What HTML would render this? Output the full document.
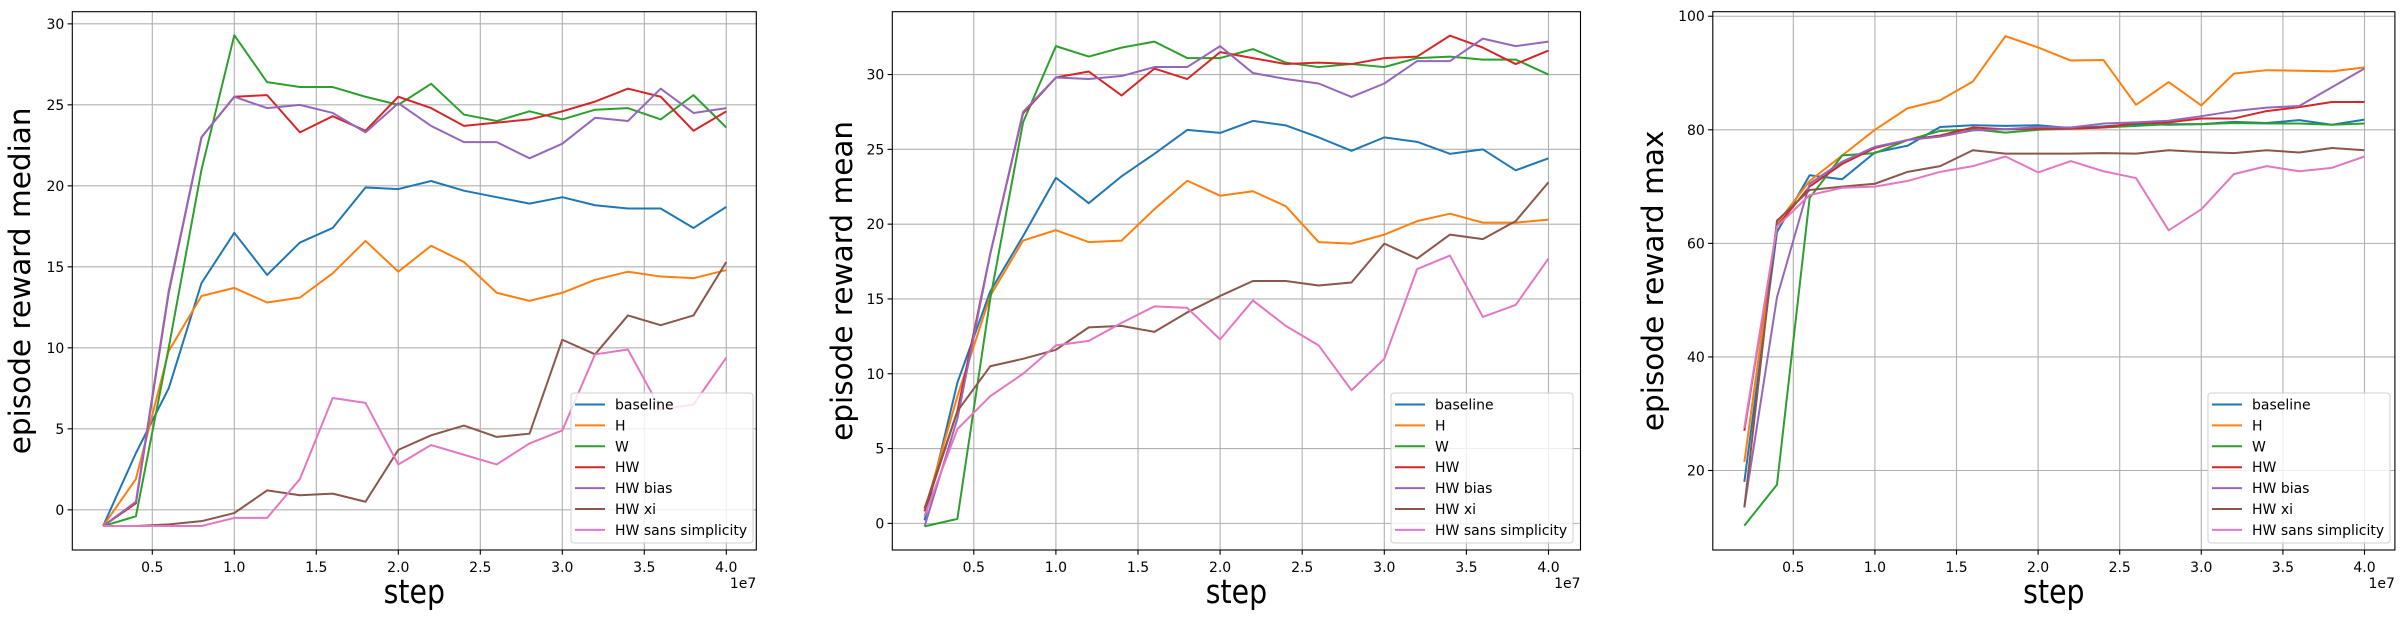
<!DOCTYPE html>
<html><head><meta charset="utf-8">
<style>
html,body{margin:0;padding:0;background:#fff;}
svg{display:block;font-family:"DejaVu Sans","Liberation Sans",sans-serif;}
</style></head>
<body>
<svg id="fig" width="2406" height="618" viewBox="0 0 2406 618" xmlns="http://www.w3.org/2000/svg"></svg>
<script>
const steps = [0.2,0.4,0.6,0.8,1.0,1.2,1.4,1.6,1.8,2.0,2.2,2.4,2.6,2.8,3.0,3.2,3.4,3.6,3.8,4.0];
const seriesNames = ["baseline","H","W","HW","HW bias","HW xi","HW sans simplicity"];
const seriesColors = ["#1f77b4","#ff7f0e","#2ca02c","#d62728","#9467bd","#8c564b","#e377c2"];
const xTicks = [0.5,1.0,1.5,2.0,2.5,3.0,3.5,4.0];
const xTickLabels = ["0.5","1.0","1.5","2.0","2.5","3.0","3.5","4.0"];

const medianBaseline = [-1,3.5,7.5,14,17.1,14.5,16.5,17.4,19.9,19.8,20.3,19.7,19.3,18.9,19.3,18.8,18.6,18.6,17.4,18.7];
const medianH = [-1,1.9,9.8,13.2,13.7,12.8,13.1,14.6,16.6,14.7,16.3,15.3,13.4,12.9,13.4,14.2,14.7,14.4,14.3,14.8];
const medianW = [-1,-0.4,10,21,29.3,26.4,26.1,26.1,25.5,25,26.3,24.4,24.0,24.6,24.1,24.7,24.8,24.1,25.6,23.6];
const medianHW = [-1,0.4,13.4,23,25.5,25.6,23.3,24.3,23.4,25.5,24.8,23.7,23.9,24.1,24.6,25.2,26.0,25.5,23.4,24.6];
const medianHWbias = [-1,0.5,13.5,23,25.5,24.8,25,24.5,23.3,25.1,23.7,22.7,22.7,21.7,22.6,24.2,24.0,26.0,24.5,24.8];
const medianHWxi = [-1,-1,-0.9,-0.7,-0.2,1.2,0.9,1.0,0.5,3.7,4.6,5.2,4.5,4.7,10.5,9.6,12.0,11.4,12.0,15.3];
const medianHWsans = [-1,-1,-1,-1,-0.5,-0.5,1.9,6.9,6.6,2.8,4.0,3.4,2.8,4.1,4.9,9.6,9.9,6.2,6.5,9.4];
const medianYTicks = [0,5,10,15,20,25,30];

const meanBaseline = [0.2,9.4,15.5,19.2,23.1,21.4,23.2,24.7,26.3,26.1,26.9,26.6,25.8,24.9,25.8,25.5,24.7,25.0,23.6,24.4];
const meanH = [0.8,8.5,15.2,18.9,19.6,18.8,18.9,21.0,22.9,21.9,22.2,21.2,18.8,18.7,19.3,20.2,20.7,20.1,20.1,20.3];
const meanW = [-0.2,0.3,15,26.8,31.9,31.2,31.8,32.2,31.1,31.1,31.7,30.8,30.5,30.7,30.5,31.1,31.2,31.0,31.0,30.0];
const meanHW = [0.8,7.5,18,27.4,29.8,30.2,28.6,30.4,29.7,31.5,31.1,30.7,30.8,30.7,31.1,31.2,32.6,31.8,30.7,31.6];
const meanHWbias = [-0.2,7,18,27.5,29.8,29.7,29.9,30.5,30.5,31.9,30.1,29.7,29.4,28.5,29.4,30.9,30.9,32.4,31.9,32.2];
const meanHWxi = [1.0,7.5,10.5,11.0,11.6,13.1,13.2,12.8,14.1,15.2,16.2,16.2,15.9,16.1,18.7,17.7,19.3,19.0,20.2,22.8];
const meanHWsans = [0.5,6.3,8.5,10.0,11.9,12.2,13.4,14.5,14.4,12.3,14.9,13.2,11.9,8.9,11.0,17.0,17.9,13.8,14.6,17.7];
const meanYTicks = [0,5,10,15,20,25,30];

const maxBaseline = [18,62,72,71.3,76,77.2,80.5,80.8,80.7,80.8,80.3,80.6,81,80.9,81,81.4,81.2,81.7,80.9,81.8];
const maxH = [21.5,63.5,71,75.5,80,83.8,85.2,88.5,96.5,94.5,92.2,92.3,84.4,88.4,84.3,89.9,90.5,90.4,90.3,91.0];
const maxW = [10.3,17.5,68,75.5,75.9,78.2,79.8,80.1,79.5,80,80.2,80.4,80.7,81,81,81.2,81.1,81.1,80.9,81.1];
const maxHW = [27,63,70,74,76.8,78.2,79,80.4,80.1,80.2,80.2,80.4,81.2,81.3,82.0,82.0,83.3,84,84.9,84.9];
const maxHWbias = [13.5,50.5,70.5,74.4,77,78.2,78.8,79.9,80.1,80.5,80.4,81.1,81.3,81.6,82.4,83.3,83.9,84.2,87.5,90.8];
const maxHWxi = [13.5,64,69.4,70,70.5,72.6,73.6,76.4,75.8,75.8,75.8,75.9,75.8,76.4,76.1,75.9,76.4,76,76.8,76.4];
const maxHWsans = [27.5,63,68.5,69.8,70,71,72.6,73.6,75.3,72.5,74.5,72.7,71.5,62.3,66,72.2,73.6,72.7,73.3,75.3];
const maxYTicks = [20,40,60,80,100];

const NS = "http://www.w3.org/2000/svg";
const fig = document.getElementById('fig');
function mk(tag, attrs, parent){
  const e = document.createElementNS(NS, tag);
  for (const k in attrs) e.setAttribute(k, attrs[k]);
  (parent||fig).appendChild(e);
  return e;
}

const panels = [
  {name:"median", ylabel:"episode reward median", L:72.3, R:756.3, T:11.7, B:550,
   xA:152.3, xPer:164, yMin:-2.48, yMax:30.75, yTicks:medianYTicks,
   series:[medianBaseline,medianH,medianW,medianHW,medianHWbias,medianHWxi,medianHWsans],
   leg:[571,393,182,150], ylx:20},
  {name:"mean", ylabel:"episode reward mean", L:892.3, R:1580.5, T:11.7, B:550,
   xA:973.8, xPer:164.2, yMin:-1.78, yMax:34.2, yTicks:meanYTicks,
   series:[meanBaseline,meanH,meanW,meanHW,meanHWbias,meanHWxi,meanHWsans],
   leg:[1391,393,182,150], ylx:842},
  {name:"max", ylabel:"episode reward max", L:1712.8, R:2394.9, T:11.7, B:550,
   xA:1793.3, xPer:163.2, yMin:6.0, yMax:100.8, yTicks:maxYTicks,
   series:[maxBaseline,maxH,maxW,maxHW,maxHWbias,maxHWxi,maxHWsans],
   leg:[2208,393,182,150], ylx:1653}
];

panels.forEach(p => {
  const g = mk('g', {});
  
  
  const xs = v => p.xA + (v - 0.5) * p.xPer;
  const ys = v => p.B - (v - p.yMin) / (p.yMax - p.yMin) * (p.B - p.T);
  xTicks.forEach((t,i) => {
    const x = xs(t);
    const gl = mk('line', {x1:x, x2:x, y1:p.T, y2:p.B, stroke:'#b0b0b0', 'stroke-width':1.1}, g);
    
    
    mk('line', {x1:x, x2:x, y1:p.B, y2:p.B+4.7, stroke:'#000', 'stroke-width':1.1}, g);
    const tl = mk('text', {x:x, y:p.B+22, 'font-size':14, 'text-anchor':'middle', fill:'#000'}, g);
    tl.textContent = xTickLabels[i];
    
    
  });
  p.yTicks.forEach(t => {
    const y = ys(t);
    const gl = mk('line', {x1:p.L, x2:p.R, y1:y, y2:y, stroke:'#b0b0b0', 'stroke-width':1.1}, g);
    
    
    mk('line', {x1:p.L-4.7, x2:p.L, y1:y, y2:y, stroke:'#000', 'stroke-width':1.1}, g);
    const tl = mk('text', {x:p.L-8, y:y+5, 'font-size':14, 'text-anchor':'end', fill:'#000'}, g);
    tl.textContent = String(t);
    
    
  });
  p.series.forEach((arr, si) => {
    const d = arr.map((v,i) => (i?'L':'M') + xs(steps[i]).toFixed(2) + ' ' + ys(v).toFixed(2)).join(' ');
    const pl = mk('path', {d:d, fill:'none', stroke:seriesColors[si], 'stroke-width':2, 'stroke-linejoin':'round'}, g);
    
    
  });
  const fr = mk('rect', {x:p.L, y:p.T, width:p.R-p.L, height:p.B-p.T, fill:'none', stroke:'#000', 'stroke-width':1.1}, g);
  
  
  const xl = mk('text', {x:0, y:0, 'font-size':33, 'text-anchor':'middle', fill:'#000',
    transform:'translate(' + ((p.L+p.R)/2) + ' 603) scale(0.86 1)'}, g);
  xl.textContent = 'step';
  
  
  const off = mk('text', {x:p.R, y:588, 'font-size':14, 'text-anchor':'end', fill:'#000'}, g);
  off.textContent = '1e7';
  
  
  const cy = (p.T+p.B)/2;
  const yl = mk('text', {x:p.ylx, y:cy + 10, 'font-size':29.5, 'text-anchor':'middle', fill:'#000', transform:'rotate(-90 '+(p.ylx)+' '+cy+')'}, g);
  yl.textContent = p.ylabel;
  
  
  const [lx, ly, lw, lh] = p.leg;
  const lg = mk('g', {}, g);
  
  
  mk('rect', {x:lx, y:ly, width:lw, height:lh, rx:3, fill:'#fff', 'fill-opacity':0.8, stroke:'#d0d0d0', 'stroke-width':1}, lg);
  seriesNames.forEach((n, i) => {
    const yy = ly + 11.5 + i * 20.9;
    const ent = mk('g', {}, lg);
    
    
    mk('line', {x1:lx+4, x2:lx+34, y1:yy, y2:yy, stroke:seriesColors[i], 'stroke-width':2}, ent);
    const t = mk('text', {x:lx+44, y:yy+5, 'font-size':14, fill:'#000'}, ent);
    t.textContent = n;
  });
});
</script>
</body></html>
